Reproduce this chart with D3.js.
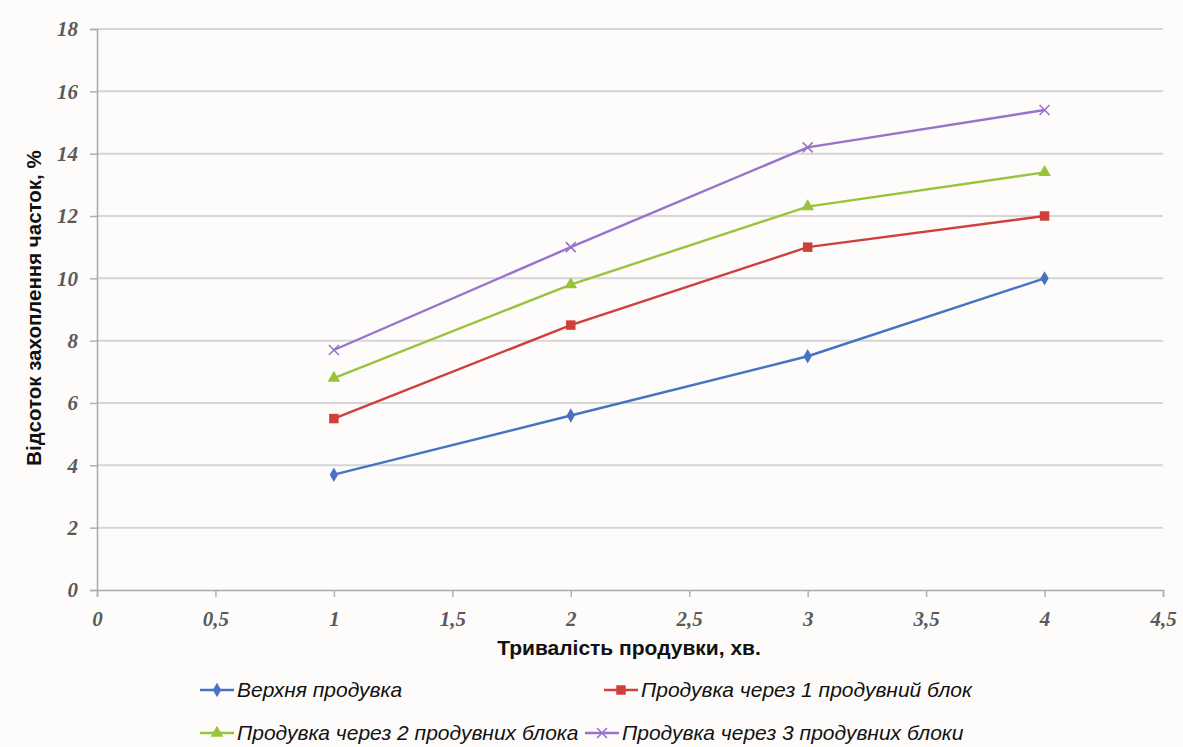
<!DOCTYPE html>
<html lang="uk">
<head>
<meta charset="utf-8">
<title>Відсоток захоплення часток</title>
<script src="https://cdn.jsdelivr.net/npm/d3@7"></script>
<style>
  body { margin: 0; background: #fdfcfa; }
  svg { display: block; }
</style>
</head>
<body>
<script>
// data
var durations = [1, 2, 3, 4];
var seriesNames = [
  "Верхня продувка",
  "Продувка через 1 продувний блок",
  "Продувка через 2 продувних блока",
  "Продувка через 3 продувних блоки"
];
var topBlow = [3.7, 5.6, 7.5, 10.0];
var oneBlock = [5.5, 8.5, 11.0, 12.0];
var twoBlocks = [6.8, 9.8, 12.3, 13.4];
var threeBlocks = [7.7, 11.0, 14.2, 15.4];
var xTicks = [0, 0.5, 1, 1.5, 2, 2.5, 3, 3.5, 4, 4.5];
var yTicks = [0, 2, 4, 6, 8, 10, 12, 14, 16, 18];

var width = 1183, height = 747;
var margin = {left: 97, right: 20, top: 29, bottom: 157};

var colors = ["#4a72c4", "#cf3f3b", "#98c43c", "#9a72cc"];
var symbols = [d3.symbolDiamond, d3.symbolSquare, d3.symbolTriangle, d3.symbolCross];
var sizes = [60, 90, 70, 0];

var allSeries = [topBlow, oneBlock, twoBlocks, threeBlocks];

var svg = d3.select("body").append("svg")
  .attr("width", width)
  .attr("height", height);

var x = d3.scaleLinear().domain([0, 4.5]).range([margin.left, width - margin.right]);
var y = d3.scaleLinear().domain([0, 18]).range([height - margin.bottom, margin.top]);

// grid lines
svg.append("g")
  .selectAll("line")
  .data(yTicks.slice(1))
  .enter().append("line")
  .attr("x1", x(0)).attr("x2", x(4.5))
  .attr("y1", d => y(d)).attr("y2", d => y(d))
  .attr("stroke", "#d6d6d6")
  .attr("stroke-width", 2);

// y axis
var yAxis = svg.append("g")
  .attr("transform", "translate(" + x(0) + ",0)")
  .call(d3.axisLeft(y).tickValues(yTicks).tickSize(7).tickPadding(12).tickFormat(d3.format("d")));

// x axis
var xAxis = svg.append("g")
  .attr("transform", "translate(0," + y(0) + ")")
  .call(d3.axisBottom(x).tickValues(xTicks).tickSize(7).tickPadding(17)
    .tickFormat(d => String(d).replace(".", ",")));

[xAxis, yAxis].forEach(function (a) {
  a.select(".domain").attr("stroke", "#a8a8a8").attr("stroke-width", 1.5);
  a.selectAll(".tick line").attr("stroke", "#b0b0b0").attr("stroke-width", 1.5);
  a.selectAll(".tick text")
    .attr("fill", "#5a5a5a")
    .style("font-family", "'Liberation Serif', serif")
    .style("font-style", "italic")
    .style("font-weight", "bold")
    .style("font-size", "21px");
});
xAxis.selectAll(".tick text").attr("dy", "0.55em");

// axis titles
svg.append("text")
  .attr("x", x(2.25) - 1)
  .attr("y", 655)
  .attr("text-anchor", "middle")
  .style("font-family", "'Liberation Sans', Arial, sans-serif")
  .style("font-weight", "bold")
  .style("font-size", "21px")
  .attr("fill", "#111")
  .text("Тривалість продувки, хв.");

svg.append("text")
  .attr("transform", "translate(41," + 308 + ")rotate(-90)")
  .attr("text-anchor", "middle")
  .style("font-family", "'Liberation Sans', Arial, sans-serif")
  .style("font-weight", "bold")
  .style("font-size", "20.5px")
  .attr("fill", "#111")
  .text("Відсоток захоплення часток, %");

// lines
var line = d3.line()
  .x((d, i) => x(durations[i]))
  .y(d => y(d));

function drawMarker(g, k, px, py) {
  if (k === 3) {
    g.append("path")
      .attr("d", "M" + (px - 5) + "," + (py - 5) + "L" + (px + 5) + "," + (py + 5) +
        "M" + (px - 5) + "," + (py + 5) + "L" + (px + 5) + "," + (py - 5))
      .attr("stroke", colors[k]).attr("stroke-width", 1.6).attr("fill", "none");
  } else {
    g.append("path")
      .attr("d", d3.symbol().type(symbols[k]).size(sizes[k])())
      .attr("transform", "translate(" + px + "," + py + ")")
      .attr("fill", colors[k]);
  }
}

allSeries.forEach(function (vals, k) {
  var g = svg.append("g");
  g.append("path")
    .datum(vals)
    .attr("d", line)
    .attr("fill", "none")
    .attr("stroke", colors[k])
    .attr("stroke-width", 2.4);
  vals.forEach(function (v, i) {
    drawMarker(g, k, x(durations[i]), y(v));
  });
});

// legend
var legendPos = [[200, 690], [604, 690], [200, 733], [585, 733]];
seriesNames.forEach(function (name, k) {
  var g = svg.append("g").attr("transform", "translate(" + legendPos[k][0] + "," + legendPos[k][1] + ")");
  g.append("line")
    .attr("x1", 0).attr("x2", 34).attr("y1", 0).attr("y2", 0)
    .attr("stroke", colors[k]).attr("stroke-width", 2.4);
  drawMarker(g, k, 17, 0);
  g.append("text")
    .attr("x", 37)
    .attr("y", 0)
    .attr("dy", "0.35em")
    .style("font-family", "'Liberation Sans', Arial, sans-serif")
    .style("font-style", "italic")
    .style("font-size", "21px")
    .attr("fill", "#111")
    .text(name);
});
</script>
</body>
</html>
